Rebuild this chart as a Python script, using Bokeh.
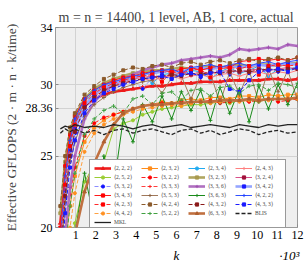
from bokeh.plotting import figure
from bokeh.models import Legend, LegendItem, FixedTicker, Range1d, LinearAxis, Title
from bokeh.embed import file_html
from bokeh.resources import INLINE

# ---------------- data (k in units of 10^3, GFLOPS) ----------------
K = [0.24, 0.48, 0.72, 0.96, 1.44, 1.92, 2.40, 2.88, 3.36, 3.84, 4.32, 4.80, 5.28, 5.76,
     6.24, 6.72, 7.20, 7.68, 8.16, 8.64, 9.12, 9.60, 10.08, 10.56, 11.04, 11.52, 12.00]

A222 = [20.3, 24.0, 26.3, 27.4, 28.5, 29.0, 29.3, 29.5, 29.6, 29.7, 29.8, 29.9, 29.9, 30.0, 30.1, 30.1, 30.2, 30.2, 30.2, 30.3, 30.3, 30.3, 30.3, 30.4, 30.4, 30.3, 30.4]
A232 = [15.5, 18.8, 21.5, 23.6, 26.0, 27.0, 27.5, 27.9, 28.1, 28.3, 28.5, 28.6, 28.8, 28.7, 28.9, 29.0, 28.9, 29.1, 29.1, 29.0, 29.2, 29.2, 29.1, 29.3, 29.2, 29.3, 29.3]
A234 = [19.0, 23.2, 25.8, 27.3, 28.8, 29.5, 29.9, 30.2, 30.4, 30.5, 30.6, 30.1, 30.7, 30.8, 30.6, 31.0, 30.9, 30.4, 30.9, 31.2, 30.8, 31.0, 31.3, 30.6, 31.1, 31.0, 31.3]
A243 = [18.0, 22.5, 25.2, 26.8, 28.4, 29.2, 29.6, 29.9, 30.1, 30.2, 30.4, 30.3, 30.5, 30.6, 30.4, 30.6, 30.7, 30.5, 30.7, 30.8, 30.6, 30.8, 30.9, 30.7, 30.9, 30.8, 31.0]
A252 = [12.0, 15.5, 18.0, 20.3, 23.2, 24.4, 24.6, 26.9, 27.3, 27.5, 27.9, 28.1, 28.3, 28.4, 28.5, 28.6, 28.6, 28.7, 28.8, 28.7, 28.9, 28.9, 28.8, 29.0, 29.0, 28.9, 29.1]
A322 = [16.0, 19.5, 22.3, 24.2, 26.4, 27.3, 27.7, 27.9, 28.1, 28.3, 28.5, 28.6, 28.7, 28.6, 28.8, 28.7, 28.8, 28.9, 28.7, 28.8, 28.9, 28.8, 28.9, 29.0, 28.8, 28.9, 29.0]
A323 = [21.0, 24.6, 26.7, 27.8, 29.0, 29.7, 30.1, 30.4, 30.6, 30.8, 30.9, 31.0, 31.0, 31.1, 31.2, 31.1, 31.2, 31.3, 31.2, 31.3, 31.4, 31.3, 31.4, 31.4, 31.3, 31.5, 31.5]
A324 = [18.5, 22.8, 25.5, 27.0, 28.6, 29.3, 29.7, 30.0, 30.2, 30.4, 30.5, 30.6, 30.5, 30.7, 30.8, 30.7, 30.9, 30.8, 30.9, 31.0, 30.9, 31.0, 31.1, 31.0, 31.1, 31.2, 31.1]
A332 = [17.5, 22.0, 24.9, 26.6, 28.3, 29.0, 29.5, 29.8, 30.1, 30.3, 29.7, 30.5, 30.7, 30.4, 30.8, 30.9, 30.5, 30.9, 31.0, 30.7, 31.1, 30.8, 31.0, 31.2, 30.9, 31.1, 31.2]
A333 = [19.5, 23.5, 26.0, 27.5, 28.9, 29.5, 29.9, 30.2, 30.4, 30.6, 30.7, 30.8, 30.9, 30.8, 31.0, 31.1, 31.0, 31.2, 31.1, 31.2, 31.3, 31.2, 31.3, 31.4, 31.3, 31.4, 31.4]
A336 = [15.0, 19.5, 22.8, 25.0, 27.6, 28.8, 29.5, 30.0, 30.4, 30.7, 31.0, 31.2, 31.4, 31.5, 31.7, 31.8, 31.9, 32.0, 31.9, 32.1, 32.5, 32.4, 32.5, 32.6, 32.5, 32.8, 32.7]
A342 = [18.2, 22.6, 25.4, 26.9, 28.5, 29.3, 29.8, 30.1, 30.3, 30.5, 30.7, 30.8, 30.9, 31.0, 30.9, 31.1, 31.2, 31.1, 31.2, 31.3, 31.2, 31.3, 31.4, 31.3, 31.4, 31.5, 31.4]
A343 = [20.0, 24.3, 26.5, 27.8, 29.0, 29.6, 30.0, 30.3, 30.5, 30.6, 30.8, 30.9, 31.0, 30.9, 31.1, 31.2, 31.0, 31.2, 31.3, 31.2, 31.6, 31.7, 31.8, 31.7, 31.8, 31.7, 31.9]
A353 = [17.0, 21.8, 24.6, 26.0, 27.8, 28.6, 29.1, 29.5, 29.8, 30.0, 30.2, 30.3, 29.4, 30.5, 30.6, 29.0, 30.7, 30.8, 28.7, 30.9, 29.3, 31.0, 28.8, 31.1, 29.5, 31.0, 28.9]
A363 = [10.0, 13.0, 16.0, 19.5, 23.8, 20.5, 25.0, 22.8, 27.6, 26.0, 28.6, 27.4, 29.2, 27.6, 29.5, 28.2, 29.6, 27.5, 29.8, 28.0, 29.7, 27.4, 29.9, 28.3, 30.0, 28.6, 30.1]
A422 = [19.2, 23.6, 26.1, 27.6, 29.0, 29.6, 30.0, 30.2, 30.4, 30.6, 30.7, 30.9, 31.0, 31.1, 30.8, 31.2, 31.3, 31.4, 31.2, 31.4, 31.5, 31.3, 31.5, 31.6, 31.4, 31.6, 31.7]
A423 = [18.8, 23.0, 25.7, 27.2, 28.7, 29.4, 29.8, 30.1, 30.3, 30.5, 30.6, 30.7, 30.2, 30.9, 30.8, 31.0, 31.1, 30.5, 31.1, 31.2, 31.1, 31.3, 30.7, 31.3, 31.4, 31.3, 31.4]
A424 = [21.5, 25.0, 27.0, 28.0, 29.3, 29.9, 30.4, 30.7, 31.0, 31.2, 31.1, 31.3, 31.4, 31.2, 31.5, 31.6, 31.4, 31.6, 31.7, 31.5, 31.7, 31.8, 31.6, 31.8, 31.9, 31.7, 31.9]
A432 = [17.8, 22.2, 25.0, 26.7, 28.4, 29.1, 29.6, 29.9, 30.1, 30.3, 30.4, 30.5, 30.6, 30.7, 30.6, 30.8, 30.7, 30.9, 30.8, 30.9, 31.0, 30.9, 31.0, 31.1, 31.0, 31.1, 31.1]
A433 = [16.5, 21.0, 24.2, 26.1, 28.0, 28.9, 29.4, 29.7, 30.0, 30.2, 30.4, 30.5, 30.6, 30.4, 30.7, 30.8, 30.6, 30.8, 30.9, 29.7, 29.5, 30.3, 30.9, 31.0, 31.1, 30.9, 31.2]
A442 = [13.5, 17.0, 20.0, 22.4, 25.3, 26.6, 27.2, 27.6, 27.9, 28.1, 28.3, 28.4, 28.5, 28.6, 28.5, 28.7, 28.8, 28.7, 28.8, 28.9, 28.8, 28.9, 29.0, 28.9, 29.0, 29.1, 29.0]
A522 = [14.5, 18.5, 21.5, 23.8, 26.5, 27.6, 28.2, 28.5, 28.0, 29.0, 29.2, 28.6, 29.4, 29.5, 28.9, 29.6, 29.7, 29.2, 29.8, 29.9, 29.4, 29.9, 30.0, 29.6, 30.1, 30.0, 29.8]
A633 = [11.0, 14.0, 17.0, 19.5, 22.5, 24.5, 26.0, 27.2, 28.0, 28.3, 28.5, 28.6, 28.6, 28.7, 28.7, 28.8, 28.8, 28.8, 28.9, 28.9, 28.9, 29.0, 28.9, 29.0, 29.0, 29.0, 29.1]
BLIS = [26.6, 26.9, 26.7, 26.9, 26.6, 26.8, 26.5, 26.8, 26.9, 26.6, 26.8, 26.9, 26.7, 26.5, 26.8, 26.9, 26.6, 26.8, 26.5, 26.7, 26.9, 26.8, 26.5, 26.7, 26.8, 26.6, 26.7]
MKL = [26.9, 27.1, 27.0, 27.2, 27.0, 27.1, 27.0, 27.2, 27.1, 26.9, 27.1, 27.2, 27.0, 27.1, 27.2, 27.0, 27.1, 27.2, 27.1, 27.0, 27.2, 27.1, 27.0, 27.2, 27.1, 27.2, 27.2]

LABELS = ["⟨2, 2, 2⟩", "⟨2, 3, 2⟩", "⟨2, 3, 4⟩", "⟨2, 4, 3⟩", "⟨2, 5, 2⟩", "⟨3, 2, 2⟩",
          "⟨3, 2, 3⟩", "⟨3, 2, 4⟩", "⟨3, 3, 2⟩", "⟨3, 3, 3⟩", "⟨3, 3, 6⟩", "⟨3, 4, 2⟩",
          "⟨3, 4, 3⟩", "⟨3, 5, 3⟩", "⟨3, 6, 3⟩", "⟨4, 2, 2⟩", "⟨4, 2, 3⟩", "⟨4, 2, 4⟩",
          "⟨4, 3, 2⟩", "⟨4, 3, 3⟩", "⟨4, 4, 2⟩", "⟨5, 2, 2⟩", "⟨6, 3, 3⟩", "BLIS", "MKL"]
SERIES = [A222, A232, A234, A243, A252, A322, A323, A324, A332, A333, A336, A342,
          A343, A353, A363, A422, A423, A424, A432, A433, A442, A522, A633, BLIS, MKL]
X_TICKS = [1, 2, 3, 4, 5, 6, 7, 8, 9, 10, 11, 12]
Y_TICKS = [20, 25, 28.36, 30, 34]
TITLE = "m = n = 14400, 1 level, AB, 1 core, actual"
Y_LABEL = "Effective GFLOPS (2 · m · n · k/time)"
X_NAME = "k"
X_SCALE = "·10³"

# ---------------- styles: (line color, width, dash, marker, marker color) ----------------
STYLES = [
    ("#ee1c1c", 2.6, "solid", "triangle", "#ee1c1c"),
    ("#ff8c1a", 1.0, "solid", "square", "#ff8c1a"),
    ("#20aaf0", 1.0, "solid", "circle", "#20aaf0"),
    ("#ff7f7f", 1.0, "solid", "cross", "#ff7f7f"),
    ("#9acd32", 1.0, "solid", "circle", "#9acd32"),
    ("#ff2020", 1.0, "4 2", "circle", "#ff0000"),
    ("#b0a660", 2.6, "solid", "square", "#a89a50"),
    ("#d8508a", 1.0, "solid", "square", "#a0103a"),
    ("#8c8cff", 1.0, "4 2", "circle", "#1010ff"),
    ("#ff4040", 1.0, "4 2", "cross", "#ff2020"),
    ("#b070c0", 2.6, "solid", "cross", "#a050b0"),
    ("#95a5ff", 2.6, "solid", "square", "#1a1aff"),
    ("#ff1a1a", 1.0, "solid", "square", "#ff0000"),
    ("#a0785a", 1.0, "solid", "cross", "#8a6040"),
    ("#1a8a1a", 1.0, "solid", "cross", "#1a8a1a"),
    ("#3050ff", 1.0, "solid", "cross", "#2040ff"),
    ("#ff2a2a", 1.0, "4 2", "square", "#ff0000"),
    ("#8b5a2b", 1.0, "4 2", "square", "#8b5a2b"),
    ("#8b1a1a", 1.0, "4 2", "square", "#8b1a1a"),
    ("#1a1aff", 1.0, "4 2", "square", "#1a1aff"),
    ("#ffa040", 1.0, "4 2", "circle", "#ff9020"),
    ("#40a040", 1.0, "4 2", "cross", "#40a040"),
    ("#c07040", 2.6, "solid", "triangle", "#b06030"),
    ("#222222", 1.3, "4 2", None, None),
    ("#222222", 1.3, "solid", None, None),
]

FONT = "Liberation Serif"
W, H = 307, 265

p = figure(width=W, height=H, output_backend="svg", toolbar_location=None,
           x_range=Range1d(0, 12), y_range=Range1d(20, 34),
           min_border_left=54, min_border_right=10, min_border_top=27, min_border_bottom=37)
p.background_fill_color = "#efefef"
p.border_fill_color = "white"
p.outline_line_color = "#9a9a9a"
p.outline_line_width = 1

# title
p.title.text = TITLE
p.title.align = "center"
p.title.text_font = FONT
p.title.text_font_size = "14px"
p.title.text_font_style = "normal"
if "standoff" in Title.properties():
    p.title.standoff = 5

xax = p.below[0]
yax = p.left[0]
xax.ticker = FixedTicker(ticks=X_TICKS)
yax.ticker = FixedTicker(ticks=Y_TICKS)
yax.major_label_overrides = {20: "20", 25: "25", 28.36: "28.36", 30: "30", 34: "34"}
for ax in (xax, yax):
    ax.axis_line_color = None
    ax.major_tick_in = 3
    ax.major_tick_out = 0
    ax.major_tick_line_color = "#8a8a8a"
    ax.minor_tick_line_color = None
    ax.major_label_text_font = FONT
    ax.major_label_text_font_size = "12px"
    ax.major_label_text_color = "black"
    ax.major_label_standoff = 3
yax.axis_label = Y_LABEL
yax.axis_label_text_font = FONT
yax.axis_label_text_font_size = "13.5px"
yax.axis_label_text_font_style = "normal"
yax.axis_label_standoff = 4

# second, label-only axis below: carries "k" and the "·10³" scale note
ax2 = LinearAxis(ticker=FixedTicker(ticks=[6, 11.6]),
                 major_label_overrides={6: X_NAME, 11.6: X_SCALE},
                 axis_line_color=None, major_tick_line_color=None, minor_tick_line_color=None,
                 major_label_standoff=0, major_label_text_font=FONT,
                 major_label_text_font_size="13px", major_label_text_font_style="italic",
                 major_label_text_color="black")
p.add_layout(ax2, "below")

p.xgrid.grid_line_color = "#d2d2d2"
p.ygrid.grid_line_color = "#d2d2d2"

items = []
for lab, ys, (col, lw, dash, mk, mcol) in zip(LABELS, SERIES, STYLES):
    rs = [p.line(K, ys, line_color=col, line_width=lw, line_dash=dash)]
    if mk is not None:
        sz = {"circle": 3, "square": 3, "triangle": 3.8, "cross": 4}[mk]
        rs.append(p.scatter(K, ys, marker=mk, size=sz, line_color=mcol, fill_color=mcol, line_width=1))
    items.append(LegendItem(label=lab, renderers=rs))

legend = Legend(items=items, location=(34, -4), orientation="horizontal", ncols=4,
                label_text_font=FONT, label_text_font_size="5.5px", label_text_font_style="normal",
                glyph_width=17, glyph_height=8, label_height=8, label_width=26,
                label_standoff=3, spacing=1, padding=4, margin=0,
                border_line_color="#333333", border_line_width=1,
                background_fill_color="white", background_fill_alpha=1.0)
p.add_layout(legend)

open("out.html", "w").write(file_html(p, INLINE))
